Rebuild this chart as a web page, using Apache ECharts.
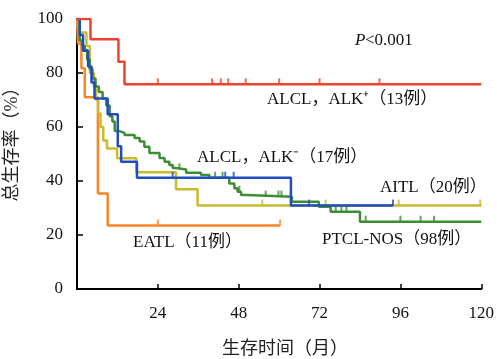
<!DOCTYPE html>
<html><head><meta charset="utf-8">
<script src="https://cdn.jsdelivr.net/npm/echarts@6/dist/echarts.min.js"></script>
<style>html,body{margin:0;padding:0;background:#fff}#c{width:497px;height:359px}</style>
</head><body><div id="c"></div>
<script>
// Kaplan-Meier step data (months, survival %)
const redT = [0, 4.0, 12.3, 14.1, 120];
const redS = [100, 92.5, 84.2, 75.8, 75.8];
const redCens = [24, 40.1, 42.7, 44.9, 50.1, 60, 72, 89.8];

const blueT = [0, 0.8, 1.8, 3.3, 4.3, 5.2, 9.1, 12.1, 13.1, 17.8, 63.5, 93.8];
const blueS = [100, 94.1, 88.2, 82.4, 76.5, 70.6, 64.7, 52.9, 47.1, 41.2, 30.9, 30.9];
const blueCens = [28.4, 44, 46.5, 68.9, 93.8];

const greenT = [0, 0.8, 1.5, 2.3, 3.0, 3.8, 4.6, 5.5, 6.5, 7.6, 8.7, 9.7, 10.5, 11.2, 12.6, 14.1, 17.1, 18.6, 20.0, 21.5, 24.5, 26.0, 27.4, 28.4, 29.4, 32.4, 36.8, 39.3, 45.2, 46.7, 47.7, 48.7, 50.6, 63.8, 71.8, 75.3, 84.0, 120];
const greenS = [100, 92, 90, 88.5, 85, 81.5, 78, 75, 73, 70.5, 68, 64, 62, 58.5, 57.8, 57, 55.9, 54.6, 52.7, 50.4, 48.5, 47.1, 45.9, 44.8, 44.3, 43.1, 42.2, 41.2, 39.1, 37.3, 36.0, 34.8, 34.2, 32.3, 30.5, 28.6, 24.9, 24.9];
const greenCens = [30.4, 41, 43.2, 48.2, 56, 59.8, 60.7, 76.8, 78.5, 80, 85.7, 96, 102, 106];

const yellowT = [0, 0.8, 2.8, 3.8, 5.0, 5.7, 6.3, 7.0, 7.8, 8.9, 11.9, 17.6, 29.4, 35.8, 120];
const yellowS = [100, 95, 90, 80, 75, 70, 65, 60, 55, 52, 48.4, 43.2, 36.9, 30.9, 30.9];
const yellowCens = [55, 73.8, 95.5, 119.7];

const orangeT = [0, 0.3, 1.3, 2.3, 6.2, 9.1, 60.3];
const orangeS = [100, 90.9, 81.8, 71, 35.4, 23.5, 23.5];
const orangeCens = [24, 60.3];

const xTicks = [0, 24, 48, 72, 96, 120];
const yTicks = [0, 20, 40, 60, 80, 100];

const labels = {
  p: 'P<0.001',
  red: 'ALCL，ALK⁺（13例）',
  blue: 'ALCL，ALK⁻（17例）',
  yellow: 'AITL（20例）',
  green: 'PTCL-NOS（98例）',
  orange: 'EATL（11例）'
};

const FONT = '"Liberation Serif", "Noto Sans CJK SC", serif';

function pairs(T, S) { return T.map((t, i) => [t, S[i]]); }
function survAt(T, S, t) { let v = S[0]; for (let i = 0; i < T.length; i++) { if (T[i] <= t) v = S[i]; } return v; }

const series = [];
const defs = [
  ['#F7862A', orangeT, orangeS, orangeCens],
  ['#C8BC2C', yellowT, yellowS, yellowCens],
  ['#3E8C34', greenT, greenS, greenCens],
  ['#1F4DBF', blueT, blueS, blueCens],
  ['#EC4330', redT, redS, redCens]
];
defs.forEach((d, i) => {
  series.push({
    type: 'line', step: 'end', data: pairs(d[1], d[2]), showSymbol: false,
    lineStyle: { color: d[0], width: 2.5 }, z: 2 + i, silent: true
  });
  series.push({
    type: 'scatter', data: d[3].map(t => [t, survAt(d[1], d[2], t)]),
    symbol: 'rect', symbolSize: [2, 6], symbolOffset: [0, -3],
    itemStyle: { color: d[0] }, z: 2 + i, silent: true
  });
});

const chart = echarts.init(document.getElementById('c'), null, { renderer: 'canvas' });
const txt = (x, y, s, extra) => Object.assign({
  type: 'text', left: x, top: y,
  style: { text: s, font: '17px ' + FONT, fill: '#111', textVerticalAlign: 'middle' }
}, extra || {});
chart.setOption({
  animation: false,
  grid: { left: 77, right: 14, top: 19, bottom: 70 },
  xAxis: {
    type: 'value', min: 0, max: 120, interval: 24,
    axisLine: { lineStyle: { color: '#000', width: 2 } },
    axisTick: { inside: true, length: 5, lineStyle: { color: '#000', width: 1.5 } },
    axisLabel: { margin: 16, fontSize: 17, fontFamily: FONT, color: '#111',
      formatter: v => (v === 0 ? '' : String(v)) },
    splitLine: { show: false }
  },
  yAxis: {
    type: 'value', min: 0, max: 100, interval: 20,
    axisLine: { show: true, lineStyle: { color: '#000', width: 2 } },
    axisTick: { show: true, inside: true, length: 6, lineStyle: { color: '#000', width: 1.5 } },
    axisLabel: { margin: 14, fontSize: 17, fontFamily: FONT, color: '#111' },
    splitLine: { show: false }
  },
  graphic: [
    { type: 'text', x: 12, y: 140, rotation: Math.PI / 2,
      style: { text: '总生存率（%）', font: '18px ' + FONT, fill: '#222', textAlign: 'center', textVerticalAlign: 'middle' } },
    { type: 'text', x: 285, y: 349,
      style: { text: '生存时间（月）', font: '18px ' + FONT, fill: '#222', textAlign: 'center', textVerticalAlign: 'middle' } },
    { type: 'text', x: 355, y: 41,
      style: { text: 'P', font: 'italic 17px ' + FONT, fill: '#111', textVerticalAlign: 'middle' } },
    { type: 'text', x: 365, y: 41,
      style: { text: labels.p.slice(1), font: '17px ' + FONT, fill: '#111', textVerticalAlign: 'middle' } },
    { type: 'text', x: 267, y: 100, style: { text: labels.red, font: '17px ' + FONT, fill: '#111', textVerticalAlign: 'middle' } },
    { type: 'text', x: 197, y: 158, style: { text: labels.blue, font: '17px ' + FONT, fill: '#111', textVerticalAlign: 'middle' } },
    { type: 'text', x: 380, y: 188, style: { text: labels.yellow, font: '17px ' + FONT, fill: '#111', textVerticalAlign: 'middle' } },
    { type: 'text', x: 322, y: 240, style: { text: labels.green, font: '17px ' + FONT, fill: '#111', textVerticalAlign: 'middle' } },
    { type: 'text', x: 133, y: 243, style: { text: labels.orange, font: '17px ' + FONT, fill: '#111', textVerticalAlign: 'middle' } }
  ],
  series: series
});
</script></body></html>
